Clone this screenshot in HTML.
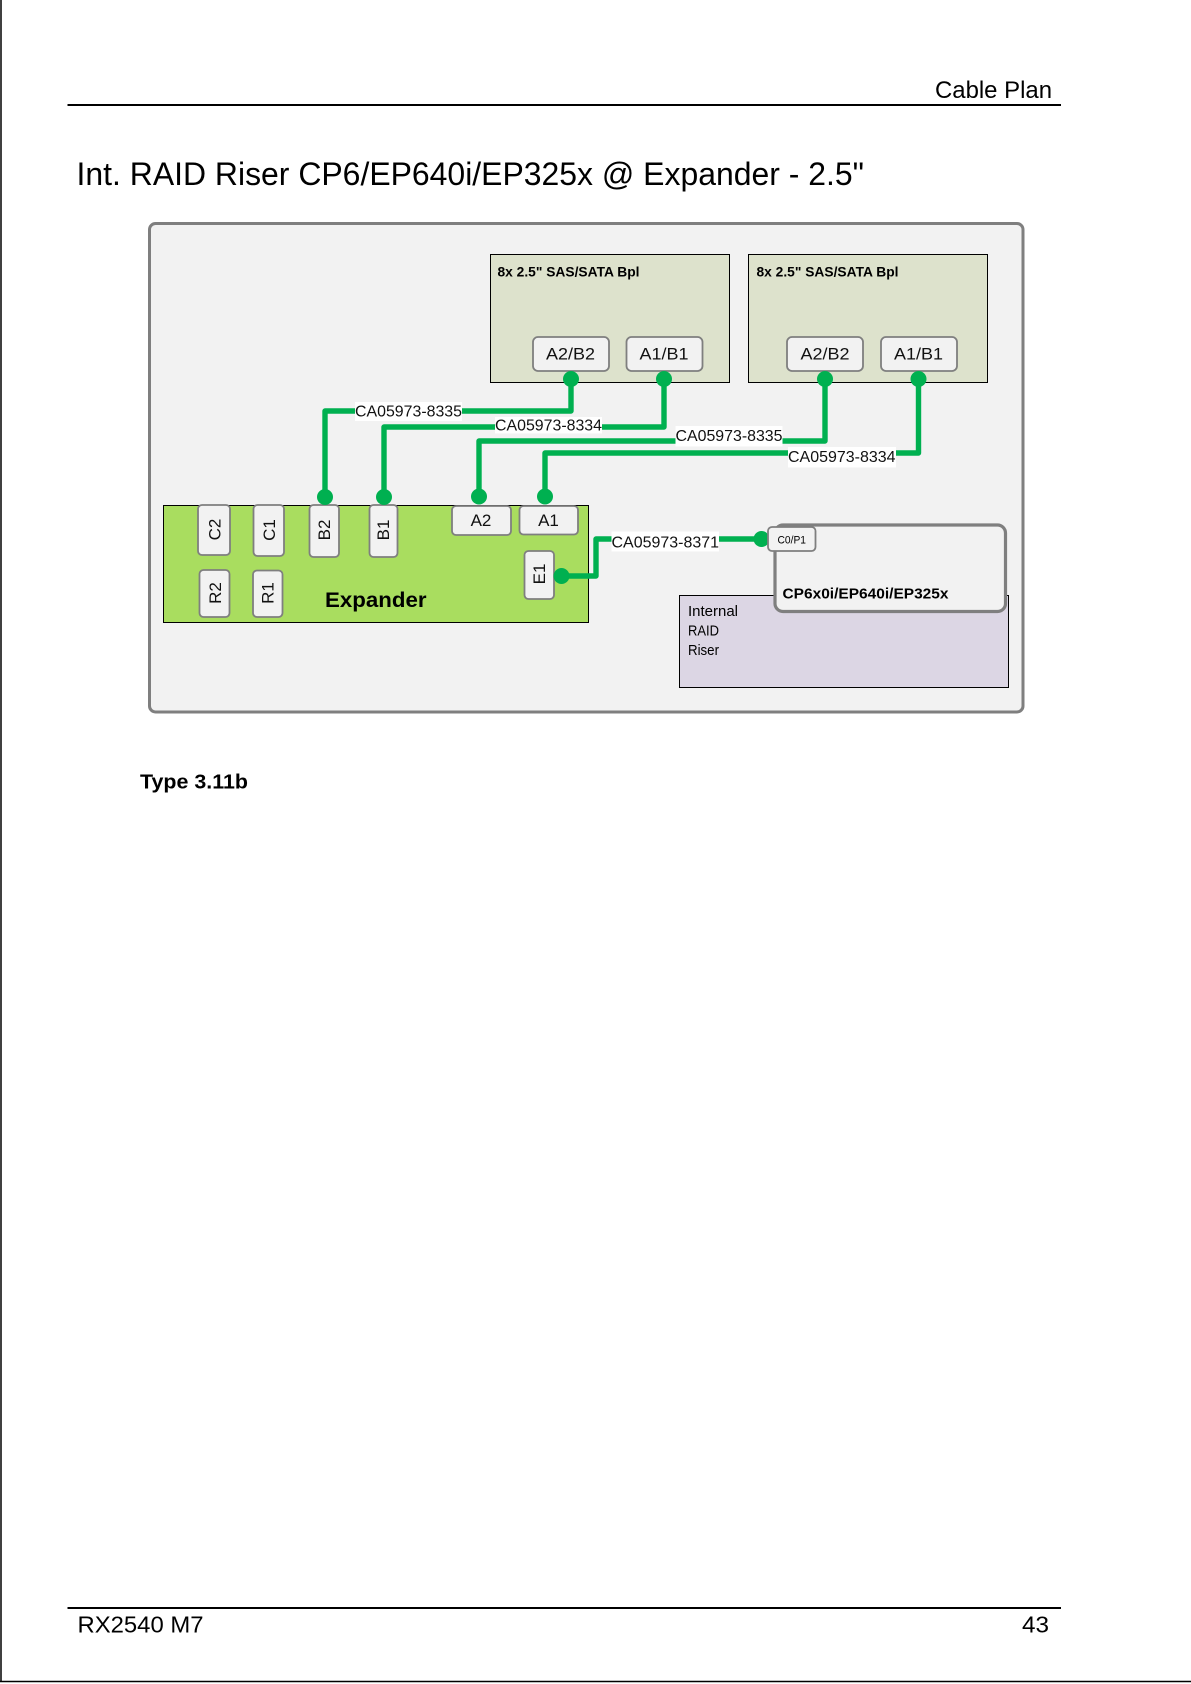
<!DOCTYPE html>
<html>
<head>
<meta charset="utf-8">
<style>
html,body{margin:0;padding:0;background:#fff;}
svg{display:block;}
text{font-family:"Liberation Sans",sans-serif;fill:#000;}
.p{fill:#f2f2f2;stroke:#7f7f7f;stroke-width:1.8;}
.w{fill:none;stroke:#00b050;stroke-width:5.4;stroke-linejoin:round;}
.d{fill:#00b050;}
.l{fill:#fff;}
.t{font-size:16px;fill:#111;}
.c{font-size:17px;text-anchor:middle;fill:#111;}
.b{font-weight:bold;}
</style>
</head>
<body>
<svg width="1191" height="1684" viewBox="0 0 1191 1684" xmlns="http://www.w3.org/2000/svg">
<rect width="1191" height="1684" fill="#fff"/>
<!-- page frame -->
<line x1="1" y1="0" x2="1" y2="1682" stroke="#000" stroke-width="1.5"/>
<line x1="0" y1="1681.5" x2="1191" y2="1681.5" stroke="#000" stroke-width="1.5"/>
<!-- header / footer -->
<text x="935" y="98" font-size="24" textLength="117" lengthAdjust="spacingAndGlyphs">Cable Plan</text>
<rect x="67.5" y="104" width="993.5" height="2" fill="#000"/>
<text x="76.5" y="185" font-size="32" textLength="787.5" lengthAdjust="spacingAndGlyphs">Int. RAID Riser CP6/EP640i/EP325x @ Expander - 2.5"</text>
<rect x="67.5" y="1607" width="993.5" height="2" fill="#000"/>
<text x="77.5" y="1632.5" font-size="23.5" textLength="126" lengthAdjust="spacingAndGlyphs">RX2540 M7</text>
<text x="1022" y="1632.5" font-size="23.5" textLength="27" lengthAdjust="spacingAndGlyphs">43</text>

<!-- main panel -->
<rect x="149.5" y="223.5" width="873.5" height="488.5" rx="6" fill="#f2f2f2" stroke="#7f7f7f" stroke-width="3"/>

<!-- backplanes -->
<rect x="490.5" y="254.5" width="239" height="128" fill="#dde2cc" stroke="#000" stroke-width="1"/>
<rect x="748.5" y="254.5" width="239" height="128" fill="#dde2cc" stroke="#000" stroke-width="1"/>
<text x="497.5" y="276.5" font-size="14" class="b" textLength="142" lengthAdjust="spacingAndGlyphs">8x 2.5" SAS/SATA Bpl</text>
<text x="756.5" y="276.5" font-size="14" class="b" textLength="142" lengthAdjust="spacingAndGlyphs">8x 2.5" SAS/SATA Bpl</text>
<rect class="p" x="533" y="337" width="76" height="34" rx="5"/>
<rect class="p" x="626.5" y="337" width="76" height="34" rx="5"/>
<rect class="p" x="787" y="337" width="76" height="34" rx="5"/>
<rect class="p" x="881" y="337" width="76" height="34" rx="5"/>
<text class="c" x="570.5" y="359.5" textLength="49" lengthAdjust="spacingAndGlyphs">A2/B2</text>
<text class="c" x="664" y="359.5" textLength="49" lengthAdjust="spacingAndGlyphs">A1/B1</text>
<text class="c" x="825" y="359.5" textLength="49" lengthAdjust="spacingAndGlyphs">A2/B2</text>
<text class="c" x="918.5" y="359.5" textLength="49" lengthAdjust="spacingAndGlyphs">A1/B1</text>

<!-- expander -->
<rect x="163.5" y="505.5" width="425" height="117" fill="#a9dd5f" stroke="#000" stroke-width="1"/>
<rect class="p" x="198" y="505" width="32" height="50" rx="4"/>
<rect class="p" x="253.5" y="505" width="30.5" height="51" rx="4"/>
<rect class="p" x="309.5" y="505" width="29.5" height="52" rx="4"/>
<rect class="p" x="369.5" y="505" width="28" height="52" rx="4"/>
<rect class="p" x="452" y="506" width="59" height="29" rx="4"/>
<rect class="p" x="519.5" y="506" width="58.5" height="28.5" rx="4"/>
<rect class="p" x="524.5" y="551" width="29.5" height="48" rx="4"/>
<rect class="p" x="199.5" y="570" width="30" height="47" rx="4"/>
<rect class="p" x="253" y="570.5" width="29.5" height="46.5" rx="4"/>
<text class="c" transform="translate(220.3 529.5) rotate(-90)">C2</text>
<text class="c" transform="translate(274.8 530) rotate(-90)">C1</text>
<text class="c" transform="translate(330.2 530) rotate(-90)">B2</text>
<text class="c" transform="translate(388.8 530) rotate(-90)">B1</text>
<text class="c" transform="translate(220.8 593) rotate(-90)">R2</text>
<text class="c" transform="translate(273.3 593) rotate(-90)">R1</text>
<text class="c" transform="translate(544.8 574) rotate(-90)">E1</text>
<text class="c" x="481" y="526">A2</text>
<text class="c" x="548.5" y="526">A1</text>
<text x="325" y="607" font-size="21" class="b" textLength="101.5" lengthAdjust="spacingAndGlyphs">Expander</text>

<!-- riser -->
<rect x="679.5" y="595.5" width="329" height="92" fill="#dcd6e4" stroke="#000" stroke-width="1"/>
<text x="688" y="616" font-size="14.5" fill="#222" textLength="50" lengthAdjust="spacingAndGlyphs">Internal</text>
<text x="688" y="635.5" font-size="14.5" textLength="31" lengthAdjust="spacingAndGlyphs">RAID</text>
<text x="688" y="655" font-size="14.5" textLength="31" lengthAdjust="spacingAndGlyphs">Riser</text>

<!-- controller card -->
<rect x="775" y="525" width="230.5" height="86.5" rx="8" fill="#f2f2f2" stroke="#7f7f7f" stroke-width="3.2"/>
<text x="782.5" y="598.5" font-size="14.5" class="b" textLength="166" lengthAdjust="spacingAndGlyphs">CP6x0i/EP640i/EP325x</text>

<!-- wires -->
<polyline class="w" points="571,379 571,411 325,411 325,497"/>
<polyline class="w" points="664,379 664,427 384,427 384,497"/>
<polyline class="w" points="825,379 825,441 479,441 479,496"/>
<polyline class="w" points="918.5,379 918.5,453 545,453 545,496"/>
<polyline class="w" points="561.5,576 596,576 596,539 761.5,539"/>
<!-- dots -->
<circle class="d" cx="571" cy="379" r="8"/>
<circle class="d" cx="664" cy="379" r="8"/>
<circle class="d" cx="825" cy="379" r="8"/>
<circle class="d" cx="918.5" cy="379" r="8"/>
<circle class="d" cx="325" cy="497" r="8"/>
<circle class="d" cx="384" cy="497" r="8"/>
<circle class="d" cx="479" cy="496.5" r="8"/>
<circle class="d" cx="545" cy="496.5" r="8"/>
<circle class="d" cx="561.5" cy="576" r="8"/>
<circle class="d" cx="761.5" cy="539" r="8"/>

<!-- C0/P1 port, on top of card -->
<rect class="p" x="768" y="527" width="47.5" height="24" rx="4"/>
<text x="777.5" y="543.5" font-size="11" fill="#111" textLength="28.5" lengthAdjust="spacingAndGlyphs">C0/P1</text>

<!-- cable labels -->
<rect class="l" x="355" y="402" width="107" height="19"/>
<rect class="l" x="495" y="417" width="107" height="16.5"/>
<rect class="l" x="675.5" y="426" width="107" height="20.5"/>
<rect class="l" x="788" y="447" width="108" height="20.5"/>
<rect class="l" x="611.5" y="531.5" width="107.5" height="20"/>
<text class="t" x="355" y="416.5" textLength="107" lengthAdjust="spacingAndGlyphs">CA05973-8335</text>
<text class="t" x="495" y="430.5" textLength="107" lengthAdjust="spacingAndGlyphs">CA05973-8334</text>
<text class="t" x="675.5" y="441" textLength="107" lengthAdjust="spacingAndGlyphs">CA05973-8335</text>
<text class="t" x="788" y="462" textLength="107.5" lengthAdjust="spacingAndGlyphs">CA05973-8334</text>
<text class="t" x="611.5" y="547.5" textLength="107.5" lengthAdjust="spacingAndGlyphs">CA05973-8371</text>

<text x="140" y="788.5" font-size="20.5" class="b" textLength="108" lengthAdjust="spacingAndGlyphs">Type 3.11b</text>
</svg>
</body>
</html>
